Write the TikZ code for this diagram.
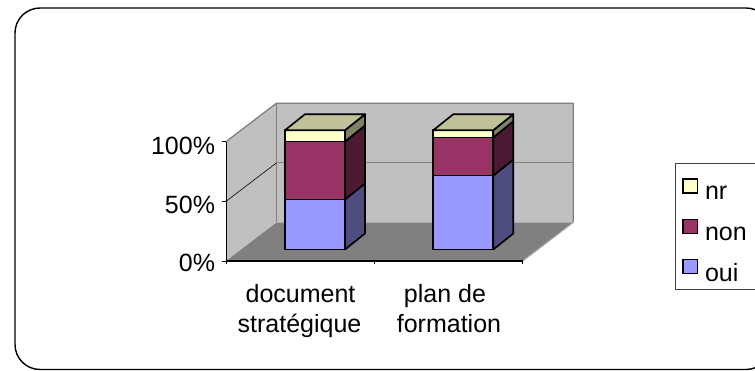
\documentclass[tikz,border=0pt]{standalone}
\usepackage{fontspec}
\setmainfont{Liberation Sans}
\definecolor{ouic}{RGB}{153,153,255}
\definecolor{ouiside}{RGB}{77,77,128}
\definecolor{nonc}{RGB}{153,51,102}
\definecolor{nonside}{RGB}{77,26,51}
\definecolor{nrc}{RGB}{255,255,204}
\definecolor{nrside}{RGB}{128,128,102}
\definecolor{bartop}{RGB}{192,192,153}
\definecolor{wallc}{RGB}{192,192,192}
\definecolor{floorc}{RGB}{128,128,128}
\definecolor{edgec}{RGB}{128,128,128}
\newcommand\drawbar[3]{%
  \pgfmathsetmacro\ya{249.5-1.193*#2}%
  \pgfmathsetmacro\yb{249.5-1.193*#3}%
  \pgfmathsetmacro\yc{249.5-1.193*100}%
  % oui
  \filldraw[barline,fill=ouic] (#1,249.5) rectangle ({#1+60},\ya);
  \filldraw[barline,fill=ouiside] ({#1+60},249.5) -- ({#1+80},233.5) -- ({#1+80},\ya-16) -- ({#1+60},\ya) -- cycle;
  % non
  \filldraw[barline,fill=nonc] (#1,\ya) rectangle ({#1+60},\yb);
  \filldraw[barline,fill=nonside] ({#1+60},\ya) -- ({#1+80},\ya-16) -- ({#1+80},\yb-16) -- ({#1+60},\yb) -- cycle;
  % nr
  \filldraw[barline,fill=nrc] (#1,\yb) rectangle ({#1+60},\yc);
  \filldraw[barline,fill=nrside] ({#1+60},\yb) -- ({#1+80},\yb-16) -- ({#1+80},\yc-16) -- ({#1+60},\yc) -- cycle;
  % top
  \filldraw[barline,fill=bartop] (#1,\yc) -- ({#1+20},\yc-16) -- ({#1+80},\yc-16) -- ({#1+60},\yc) -- cycle;
}
\begin{document}
\begin{tikzpicture}[x=1pt,y=-1pt,
  lbl/.style={font=\fontsize{25}{30}\selectfont, inner sep=0pt, outer sep=0pt},
  barline/.style={draw=black, line width=1.7pt, line join=round},
  walledge/.style={draw=edgec, line width=1.3pt, line join=round},
  swatch/.style={draw=black, line width=1.6pt},
  tickline/.style={draw=black, line width=0.9pt}]
\useasboundingbox (0,0) rectangle (755,371);
\clip (0,0) rectangle (755,371);
\fill[white] (0,0) rectangle (755,371);
% outer frame
\draw[line width=1.4pt, rounded corners=25pt] (15,8) rectangle (771,369.5);
% walls and floor
\coordinate (f0) at (226,261);
\coordinate (f100) at (226,141.7);
\coordinate (b0) at (276.5,222.5);
\coordinate (b100) at (276.5,103.2);
\coordinate (fr0) at (522.7,261);
\coordinate (br0) at (573.2,222.5);
\coordinate (br100) at (573.2,103.2);
\fill[wallc] (b100) rectangle (br0);
\fill[wallc] (f100) -- (b100) -- (b0) -- (f0) -- cycle;
\fill[floorc] (f0) -- (fr0) -- (br0) -- (b0) -- cycle;
\draw[walledge] (f100) -- (b100) -- (br100) -- (br0);
\draw[walledge] (b100) -- (b0);
\draw[draw=edgec!70, line width=1pt] (fr0) -- (br0);
% gridline 50%
\coordinate (g50f) at (226,201.35);
\coordinate (g50b) at (276.5,162.85);
\coordinate (g50r) at (573.2,162.85);
\draw[black, line width=0.6pt] (g50f) -- (g50b);
\draw[edgec, line width=1.2pt] (g50b) -- (g50r);
% axes
\draw[black, line width=1pt] (f100) -- (f0);
\draw[black, line width=1.2pt] (f0) -- (fr0);
\coordinate (xm) at (374.3,261);
\draw[tickline] (f100) -- ++(-4,0);
\draw[tickline] (g50f) -- ++(-4,0);
\draw[tickline] (f0) -- ++(-4,0);
\draw[tickline] (f0) -- ++(0,3.5);
\draw[tickline] (xm) -- ++(0,3.5);
\draw[tickline] (fr0) -- ++(0,3.5);
% bars
\drawbar{285}{42}{90.5}
\drawbar{433.3}{62}{94}
% axis labels
\node[lbl, anchor=base east] (l100) at (215,154.5) {100\%};
\node[lbl, anchor=base east] (l50) at (215,213.3) {50\%};
\node[lbl, anchor=base east] (l0) at (215,272) {0\%};
\node[lbl, anchor=base] (c1a) at (300.5,303) {document};
\node[lbl, anchor=base] (c1b) at (299.5,333) {stratégique};
\node[lbl, anchor=base] (c2a) at (445,303) {plan de};
\node[lbl, anchor=base] (c2b) at (449,333) {formation};
% legend
\draw[draw=black!75, line width=1pt] (675,164) rectangle (800,290);
\filldraw[swatch, fill=nrc] (683,179) rectangle (697.5,193);
\filldraw[swatch, fill=nonc] (683,219.5) rectangle (697.5,233.5);
\filldraw[swatch, fill=ouic] (683,259.5) rectangle (697.5,273.5);
\node[lbl, anchor=base west] (k1) at (705,200) {nr};
\node[lbl, anchor=base west] (k2) at (705,241) {non};
\node[lbl, anchor=base west] (k3) at (705,281.5) {oui};
\end{tikzpicture}
\end{document}
